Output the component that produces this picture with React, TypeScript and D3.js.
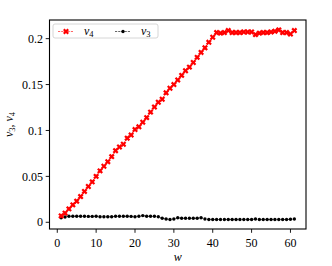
import { scaleLinear, line } from "d3";

const W = 332;
const H = 266;
const MARGIN = { top: 20, right: 26, bottom: 37, left: 49.5 };
const innerW = W - MARGIN.left - MARGIN.right;
const innerH = H - MARGIN.top - MARGIN.bottom;

// w = 1..61
const wValues = [
  1, 2, 3, 4, 5, 6, 7, 8, 9, 10, 11, 12, 13, 14, 15, 16, 17, 18, 19, 20,
  21, 22, 23, 24, 25, 26, 27, 28, 29, 30, 31, 32, 33, 34, 35, 36, 37, 38, 39, 40,
  41, 42, 43, 44, 45, 46, 47, 48, 49, 50, 51, 52, 53, 54, 55, 56, 57, 58, 59, 60, 61,
];
const nu4 = [
  0.007, 0.010, 0.0146, 0.019, 0.023, 0.028, 0.0336, 0.039, 0.044, 0.050,
  0.056, 0.061, 0.066, 0.0715, 0.078, 0.082, 0.085, 0.0916, 0.095, 0.101,
  0.104, 0.109, 0.114, 0.120, 0.1255, 0.1307, 0.134, 0.141, 0.146, 0.150,
  0.155, 0.160, 0.165, 0.169, 0.174, 0.1796, 0.185, 0.190, 0.196, 0.2015,
  0.2066, 0.206, 0.2066, 0.2088, 0.2066, 0.2066, 0.2066, 0.2073, 0.2073, 0.2073,
  0.2044, 0.206, 0.2066, 0.2066, 0.2073, 0.208, 0.2095, 0.2066, 0.2066, 0.205, 0.2088,
];
const nu3 = [
  0.005, 0.0058, 0.0066, 0.0066, 0.0066, 0.0066, 0.0066, 0.0064, 0.0064, 0.0066,
  0.006, 0.006, 0.006, 0.006, 0.0066, 0.0066, 0.0066, 0.0066, 0.0064, 0.006,
  0.0066, 0.0073, 0.0066, 0.0066, 0.0066, 0.006, 0.0044, 0.0036, 0.003, 0.0036,
  0.005, 0.0044, 0.0044, 0.0044, 0.0044, 0.0044, 0.005, 0.0036, 0.003, 0.003,
  0.003, 0.003, 0.003, 0.003, 0.003, 0.003, 0.003, 0.003, 0.003, 0.003,
  0.0036, 0.003, 0.003, 0.003, 0.003, 0.003, 0.003, 0.003, 0.003, 0.0033, 0.0036,
];
const xTicks = [0, 10, 20, 30, 40, 50, 60];
const yTicks = [0, 0.05, 0.1, 0.15, 0.2];
const yTickLabels = ["0", "0.05", "0.1", "0.15", "0.2"];

const FONT = "'Liberation Serif', 'DejaVu Serif', serif";
const FS = 12;
const SUB = 8.5;

// filled "X" marker (plus rotated 45deg)
function xMarker(a: number, b: number) {
  const pts = [
    [b, a], [b, b], [a, b], [a, -b], [b, -b], [b, -a],
    [-b, -a], [-b, -b], [-a, -b], [-a, b], [-b, b], [-b, a],
  ];
  const c = Math.SQRT1_2;
  return "M" + pts.map(([x, y]) => `${(x * c - y * c).toFixed(2)},${(x * c + y * c).toFixed(2)}`).join("L") + "Z";
}
const XPATH = xMarker(3.1, 1.1);

export default function App() {
  const x = scaleLinear().domain([-2, 64]).range([0, innerW]);
  const y = scaleLinear().domain([-0.0073, 0.2203]).range([innerH, 0]);

  const pts4 = wValues.map((w, i) => [w, nu4[i]] as [number, number]);
  const pts3 = wValues.map((w, i) => [w, nu3[i]] as [number, number]);
  const path = line<[number, number]>().x((d) => x(d[0])).y((d) => y(d[1]));

  return (
    <div style={{ position: "fixed", left: 0, top: 0 }}>
      <svg width={W} height={H} style={{ display: "block", background: "#fff" }} fontFamily={FONT}>
        <g transform={`translate(${MARGIN.left},${MARGIN.top})`}>
          {/* lines */}
          <path d={path(pts3) || ""} fill="none" stroke="#000" strokeWidth={0.6} strokeDasharray="2.2,1" />
          {pts3.map((d, i) => (
            <circle key={"c" + i} cx={x(d[0])} cy={y(d[1])} r={1.7} fill="#000" />
          ))}
          <path d={path(pts4) || ""} fill="none" stroke="#ff0000" strokeWidth={0.6} strokeDasharray="2.2,1" />
          {pts4.map((d, i) => (
            <path key={"x" + i} d={XPATH} transform={`translate(${x(d[0])},${y(d[1])})`} fill="#ff0000" />
          ))}

          {/* frame */}
          <rect x={0} y={0} width={innerW} height={innerH} fill="none" stroke="#000" strokeWidth={1.1} />

          {/* y ticks */}
          {yTicks.map((t, i) => (
            <g key={"y" + i} transform={`translate(0,${y(t)})`}>
              <line x1={-3.8} x2={0} stroke="#000" strokeWidth={0.9} />
              <text x={-6.5} dy="0.35em" textAnchor="end" fontSize={FS} fill="#000">
                {yTickLabels[i]}
              </text>
            </g>
          ))}

          {/* x ticks */}
          {xTicks.map((t) => (
            <g key={"xt" + t} transform={`translate(${x(t)},${innerH})`}>
              <line y1={0} y2={3.8} stroke="#000" strokeWidth={0.9} />
              <text y={17.5} textAnchor="middle" fontSize={FS} fill="#000">
                {t}
              </text>
            </g>
          ))}

          {/* axis labels */}
          <text x={innerW / 2} y={innerH + 31.5} textAnchor="middle" fontSize={FS} fontStyle="italic">
            w
          </text>
          <text transform={`translate(${-37},${innerH / 2}) rotate(-90)`} textAnchor="middle" fontSize={FS}>
            <tspan fontStyle="italic">ν</tspan>
            <tspan fontSize={SUB} dy={2.5}>3</tspan>
            <tspan dy={-2.5}>, </tspan>
            <tspan fontStyle="italic">ν</tspan>
            <tspan fontSize={SUB} dy={2.5}>4</tspan>
          </text>

          {/* legend */}
          <g transform="translate(3.5,4)">
            <rect x={0} y={0} width={105} height={14} rx={2} fill="#fff" fillOpacity={0.8} stroke="#cccccc" strokeWidth={0.8} />
            <line x1={5} x2={21} y1={7.5} y2={7.5} stroke="#ff0000" strokeWidth={0.6} strokeDasharray="2.2,1" />
            <path d={XPATH} transform="translate(13,7.5)" fill="#ff0000" />
            <text x={31} y={10.5} fontSize={FS}>
              <tspan fontStyle="italic">ν</tspan>
              <tspan fontSize={SUB} dy={2}>4</tspan>
            </text>
            <line x1={62} x2={78} y1={7.5} y2={7.5} stroke="#000" strokeWidth={0.6} strokeDasharray="2.2,1" />
            <circle cx={70} cy={7.5} r={1.7} fill="#000" />
            <text x={88} y={10.5} fontSize={FS}>
              <tspan fontStyle="italic">ν</tspan>
              <tspan fontSize={SUB} dy={2}>3</tspan>
            </text>
          </g>
        </g>
      </svg>
    </div>
  );
}
